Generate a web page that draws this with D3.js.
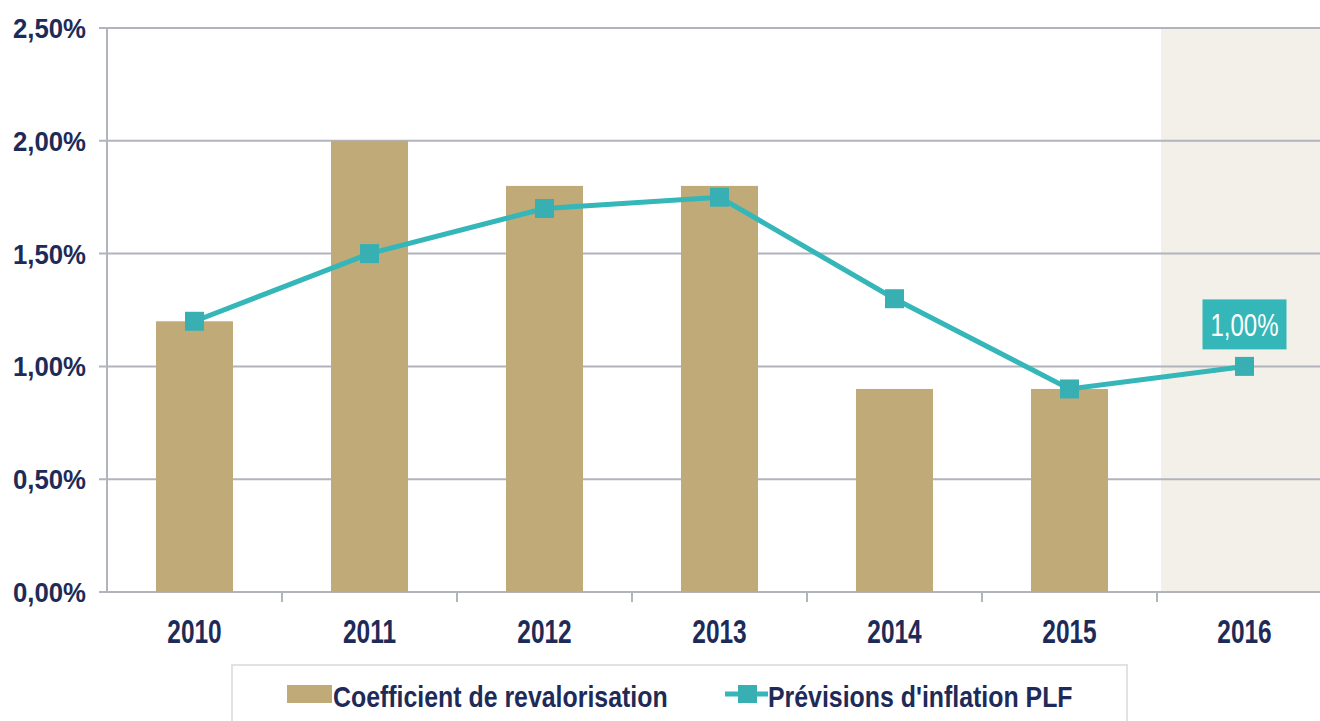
<!DOCTYPE html>
<html>
<head>
<meta charset="utf-8">
<script src="https://cdn.jsdelivr.net/npm/d3@7"></script>
<style>
  html, body { margin: 0; padding: 0; background: #fff; }
  svg { display: block; }
  text { font-family: "Liberation Sans", Arial, sans-serif; }
</style>
</head>
<body>
<div id="chart"></div>
<script>
// --- Data ---
const years = ["2010", "2011", "2012", "2013", "2014", "2015", "2016"];
const coefValues = [1.2, 2.0, 1.8, 1.8, 0.9, 0.9, null];   // Coefficient de revalorisation (%)
const inflValues = [1.2, 1.5, 1.7, 1.75, 1.3, 0.9, 1.0];   // Prévisions d'inflation PLF (%)
const yTicks = [0, 0.5, 1.0, 1.5, 2.0, 2.5];
const highlightYear = "2016";
const legendLabels = ["Coefficient de revalorisation", "Prévisions d'inflation PLF"];

const W = 1320, H = 721;
const navy = "#1e2b58", gold = "#bfaa78", teal = "#35b6b8", grid = "#b1b4bd";

const svg = d3.select("#chart").append("svg")
    .attr("width", W)
    .attr("height", H);

// no condensed font installed -> squeeze text horizontally
function place(sel, fx, fy, sx) {
  sel.attr("x", 0).attr("y", 0)
     .attr("transform", (d, i) => `translate(${fx(d, i)},${fy(d, i)}) scale(${sx},1)`);
  return sel;
}

// scales
const x = d3.scaleBand().domain(years).range([107, 1332]);
const y = d3.scaleLinear().domain([0, 2.5]).range([592, 28]);
const fmt = v => v.toFixed(2).replace(".", ",") + "%";
const cx = d => x(d) + x.bandwidth() / 2;

// shaded forecast column
svg.append("rect")
    .attr("x", x(highlightYear) + 4)
    .attr("y", y(2.5))
    .attr("width", x.bandwidth())
    .attr("height", y(0) - y(2.5))
    .attr("fill", "#f3f0e9");

// gridlines + y labels
const yAxis = svg.append("g");
yAxis.selectAll("line.grid")
  .data(yTicks)
  .join("line")
    .attr("class", "grid")
    .attr("x1", 99)
    .attr("x2", W)
    .attr("y1", d => y(d))
    .attr("y2", d => y(d))
    .attr("stroke", grid)
    .attr("stroke-width", 2);

yAxis.selectAll("text")
  .data(yTicks)
  .join("text")
    .attr("text-anchor", "end")
    .attr("fill", navy)
    .attr("font-weight", "bold")
    .attr("font-size", 28)
    .text(fmt)
    .call(place, () => 86, d => y(d) + 10, 0.92);

// vertical axis line
svg.append("line")
    .attr("x1", 107).attr("x2", 107)
    .attr("y1", y(2.5)).attr("y2", y(0))
    .attr("stroke", grid)
    .attr("stroke-width", 2);

// bars
const barW = 77;
svg.append("g")
  .selectAll("rect")
  .data(years.map((yr, i) => ({ yr, v: coefValues[i] })).filter(d => d.v != null))
  .join("rect")
    .attr("x", d => cx(d.yr) - barW / 2)
    .attr("y", d => y(d.v))
    .attr("width", barW)
    .attr("height", d => y(0) - y(d.v))
    .attr("fill", gold);

// x axis ticks and labels
const xAxis = svg.append("g");
xAxis.selectAll("line")
  .data(years.slice(1))
  .join("line")
    .attr("x1", d => x(d)).attr("x2", d => x(d))
    .attr("y1", y(0)).attr("y2", y(0) + 10)
    .attr("stroke", grid)
    .attr("stroke-width", 2);

xAxis.selectAll("text")
  .data(years)
  .join("text")
    .attr("text-anchor", "middle")
    .attr("fill", navy)
    .attr("font-weight", "bold")
    .attr("font-size", 34)
    .text(d => d)
    .call(place, d => cx(d), () => 643, 0.72);

// inflation line
const pts = years.map((yr, i) => ({ yr, v: inflValues[i] }));
const line = d3.line()
    .x(d => cx(d.yr))
    .y(d => y(d.v));

svg.append("path")
    .datum(pts)
    .attr("d", line)
    .attr("fill", "none")
    .attr("stroke", teal)
    .attr("stroke-width", 5);

const mk = 19;
svg.append("g")
  .selectAll("rect")
  .data(pts)
  .join("rect")
    .attr("x", d => cx(d.yr) - mk / 2)
    .attr("y", d => y(d.v) - mk / 2)
    .attr("width", mk)
    .attr("height", mk)
    .attr("fill", "#38b0b3");

// value label for last point
const last = pts[pts.length - 1];
const lx = cx(last.yr);
svg.append("rect")
    .attr("x", lx - 42)
    .attr("y", y(last.v) - 67)
    .attr("width", 84)
    .attr("height", 50)
    .attr("fill", teal);
svg.append("text")
    .datum(last)
    .attr("text-anchor", "middle")
    .attr("fill", "#fff")
    .attr("font-size", 32)
    .text(d => fmt(d.v))
    .call(place, () => lx, () => y(last.v) - 30, 0.75);

// legend
const lg = svg.append("g");
lg.append("rect")
    .attr("x", 232).attr("y", 665)
    .attr("width", 895).attr("height", 70)
    .attr("fill", "#fff")
    .attr("stroke", "#e2e2e2")
    .attr("stroke-width", 2);

lg.append("rect")
    .attr("x", 287).attr("y", 685)
    .attr("width", 45).attr("height", 18)
    .attr("fill", gold);
lg.append("text")
    .datum(legendLabels[0])
    .attr("fill", navy)
    .attr("font-weight", "bold")
    .attr("font-size", 30)
    .text(d => d)
    .call(place, () => 333, () => 707, 0.83);

lg.append("line")
    .attr("x1", 725).attr("x2", 768)
    .attr("y1", 694).attr("y2", 694)
    .attr("stroke", teal)
    .attr("stroke-width", 5);
lg.append("rect")
    .attr("x", 738).attr("y", 685)
    .attr("width", 19).attr("height", 18)
    .attr("fill", "#38b0b3");
lg.append("text")
    .datum(legendLabels[1])
    .attr("fill", navy)
    .attr("font-weight", "bold")
    .attr("font-size", 30)
    .text(d => d)
    .call(place, () => 768, () => 707, 0.83);
</script>
</body>
</html>
